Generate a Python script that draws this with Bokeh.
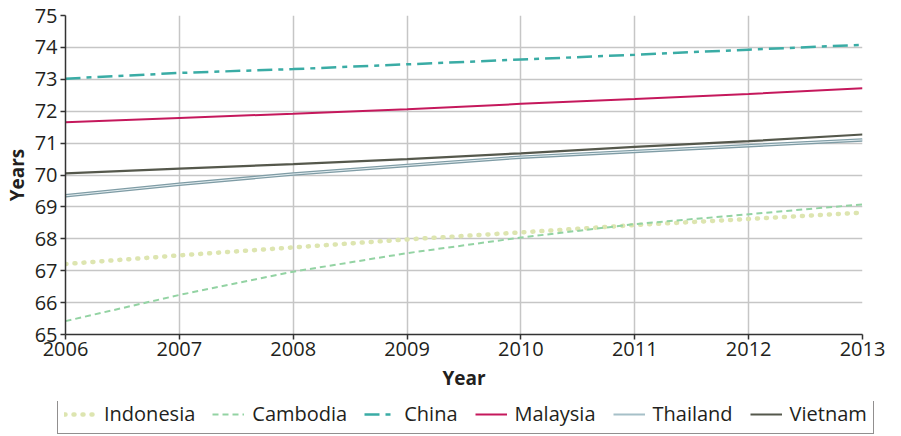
from bokeh.plotting import figure
from bokeh.models import Legend, LegendItem, Range1d, FixedTicker
from bokeh.layouts import column, row
from bokeh.embed import file_html
from bokeh.resources import INLINE

years = [2006, 2007, 2008, 2009, 2010, 2011, 2012, 2013]
indonesia = [67.21, 67.48, 67.73, 67.98, 68.20, 68.43, 68.62, 68.82]
cambodia = [65.42, 66.24, 66.97, 67.55, 68.04, 68.46, 68.77, 69.08]
china = [73.02, 73.20, 73.32, 73.47, 73.62, 73.77, 73.93, 74.08]
malaysia = [71.65, 71.79, 71.92, 72.06, 72.23, 72.38, 72.54, 72.72]
thailand = [69.35, 69.71, 70.03, 70.30, 70.56, 70.74, 70.92, 71.10]
vietnam = [70.05, 70.20, 70.34, 70.50, 70.68, 70.88, 71.06, 71.27]
y_ticks = list(range(65, 76))
names = ["Indonesia", "Cambodia", "China", "Malaysia", "Thailand", "Vietnam"]

FONT = "Open Sans"

p = figure(width=885, height=401, output_backend="svg", toolbar_location=None,
           x_range=Range1d(2006, 2013), y_range=Range1d(65, 75),
           min_border_left=57, min_border_right=23, min_border_top=15,
           min_border_bottom=67)
p.outline_line_color = None
p.background_fill_color = "white"

for ax in (p.xaxis[0], p.yaxis[0]):
    ax.axis_line_color = "#333333"
    ax.axis_line_width = 1.5
    ax.major_tick_line_color = "#333333"
    ax.major_tick_line_width = 1.5
    ax.major_tick_in = 0
    ax.major_tick_out = 5
    ax.minor_tick_line_color = None
    ax.major_label_text_font = FONT
    ax.major_label_text_font_size = "20px"
    ax.major_label_text_color = "#231f20"
    ax.axis_label_text_font = FONT
    ax.axis_label_text_font_size = "19px"
    ax.axis_label_text_font_style = "bold"
    ax.axis_label_text_color = "#231f20"

p.xaxis.ticker = FixedTicker(ticks=years)
p.yaxis.ticker = FixedTicker(ticks=y_ticks)
p.xaxis.axis_label = "Year"
p.yaxis.axis_label = "Years"
p.xaxis.major_label_standoff = 2
p.xaxis.axis_label_standoff = 6
p.yaxis.major_label_standoff = 3
p.yaxis.axis_label_standoff = 2

p.xgrid.grid_line_color = "#c6c6c6"
p.ygrid.grid_line_color = "#c6c6c6"
p.xgrid.grid_line_width = 1.5
p.ygrid.grid_line_width = 1.5

styles = {
    "Indonesia": dict(line_color="#dde5b0", line_width=4.5, line_dash="1 8", line_cap="round"),
    "Cambodia": dict(line_color="#93d3a3", line_width=2, line_dash="6 4"),
    "China": dict(line_color="#3aaca5", line_width=2.5, line_dash="15 6 5 6"),
    "Malaysia": dict(line_color="#c5185c", line_width=2),
    "Vietnam": dict(line_color="#55584c", line_width=2.2),
}

p.line(years, indonesia, **styles["Indonesia"])
p.line(years, cambodia, **styles["Cambodia"])
p.line(years, china, **styles["China"])
p.line(years, malaysia, **styles["Malaysia"])
p.line(years, thailand, line_color="#7f9ca5", line_width=3.5)
p.line(years, thailand, line_color="#e4eef1", line_width=1)
p.line(years, vietnam, **styles["Vietnam"])

# legend strip below the chart
p2 = figure(width=885, height=35, output_backend="svg", toolbar_location=None,
            x_axis_type=None, y_axis_type=None,
            x_range=Range1d(0, 1), y_range=Range1d(0, 1),
            min_border_left=0, min_border_right=0, min_border_top=0,
            min_border_bottom=0)
p2.outline_line_color = None
p2.xgrid.visible = False
p2.ygrid.visible = False

leg_styles = dict(styles)
leg_styles["Thailand"] = dict(line_color="#a6c0c8", line_width=2)
items = []
for n in names:
    r = p2.line([-10, -9], [-10, -9], **leg_styles[n])
    items.append(LegendItem(label=n, renderers=[r]))

legend = Legend(items=items, orientation="horizontal", location=(57, 2))
legend.label_text_font = FONT
legend.label_text_font_size = "20px"
legend.label_text_color = "#231f20"
legend.glyph_width = 32
legend.glyph_height = 20
legend.label_standoff = 8
legend.spacing = 17
legend.padding = 6
legend.margin = 0
legend.border_line_color = "#231f20"
legend.border_line_width = 1.5
legend.background_fill_alpha = 1
p2.add_layout(legend, "center")

layout = column(p, row(p2), spacing=0)
open("out.html", "w").write(file_html(layout, INLINE))
